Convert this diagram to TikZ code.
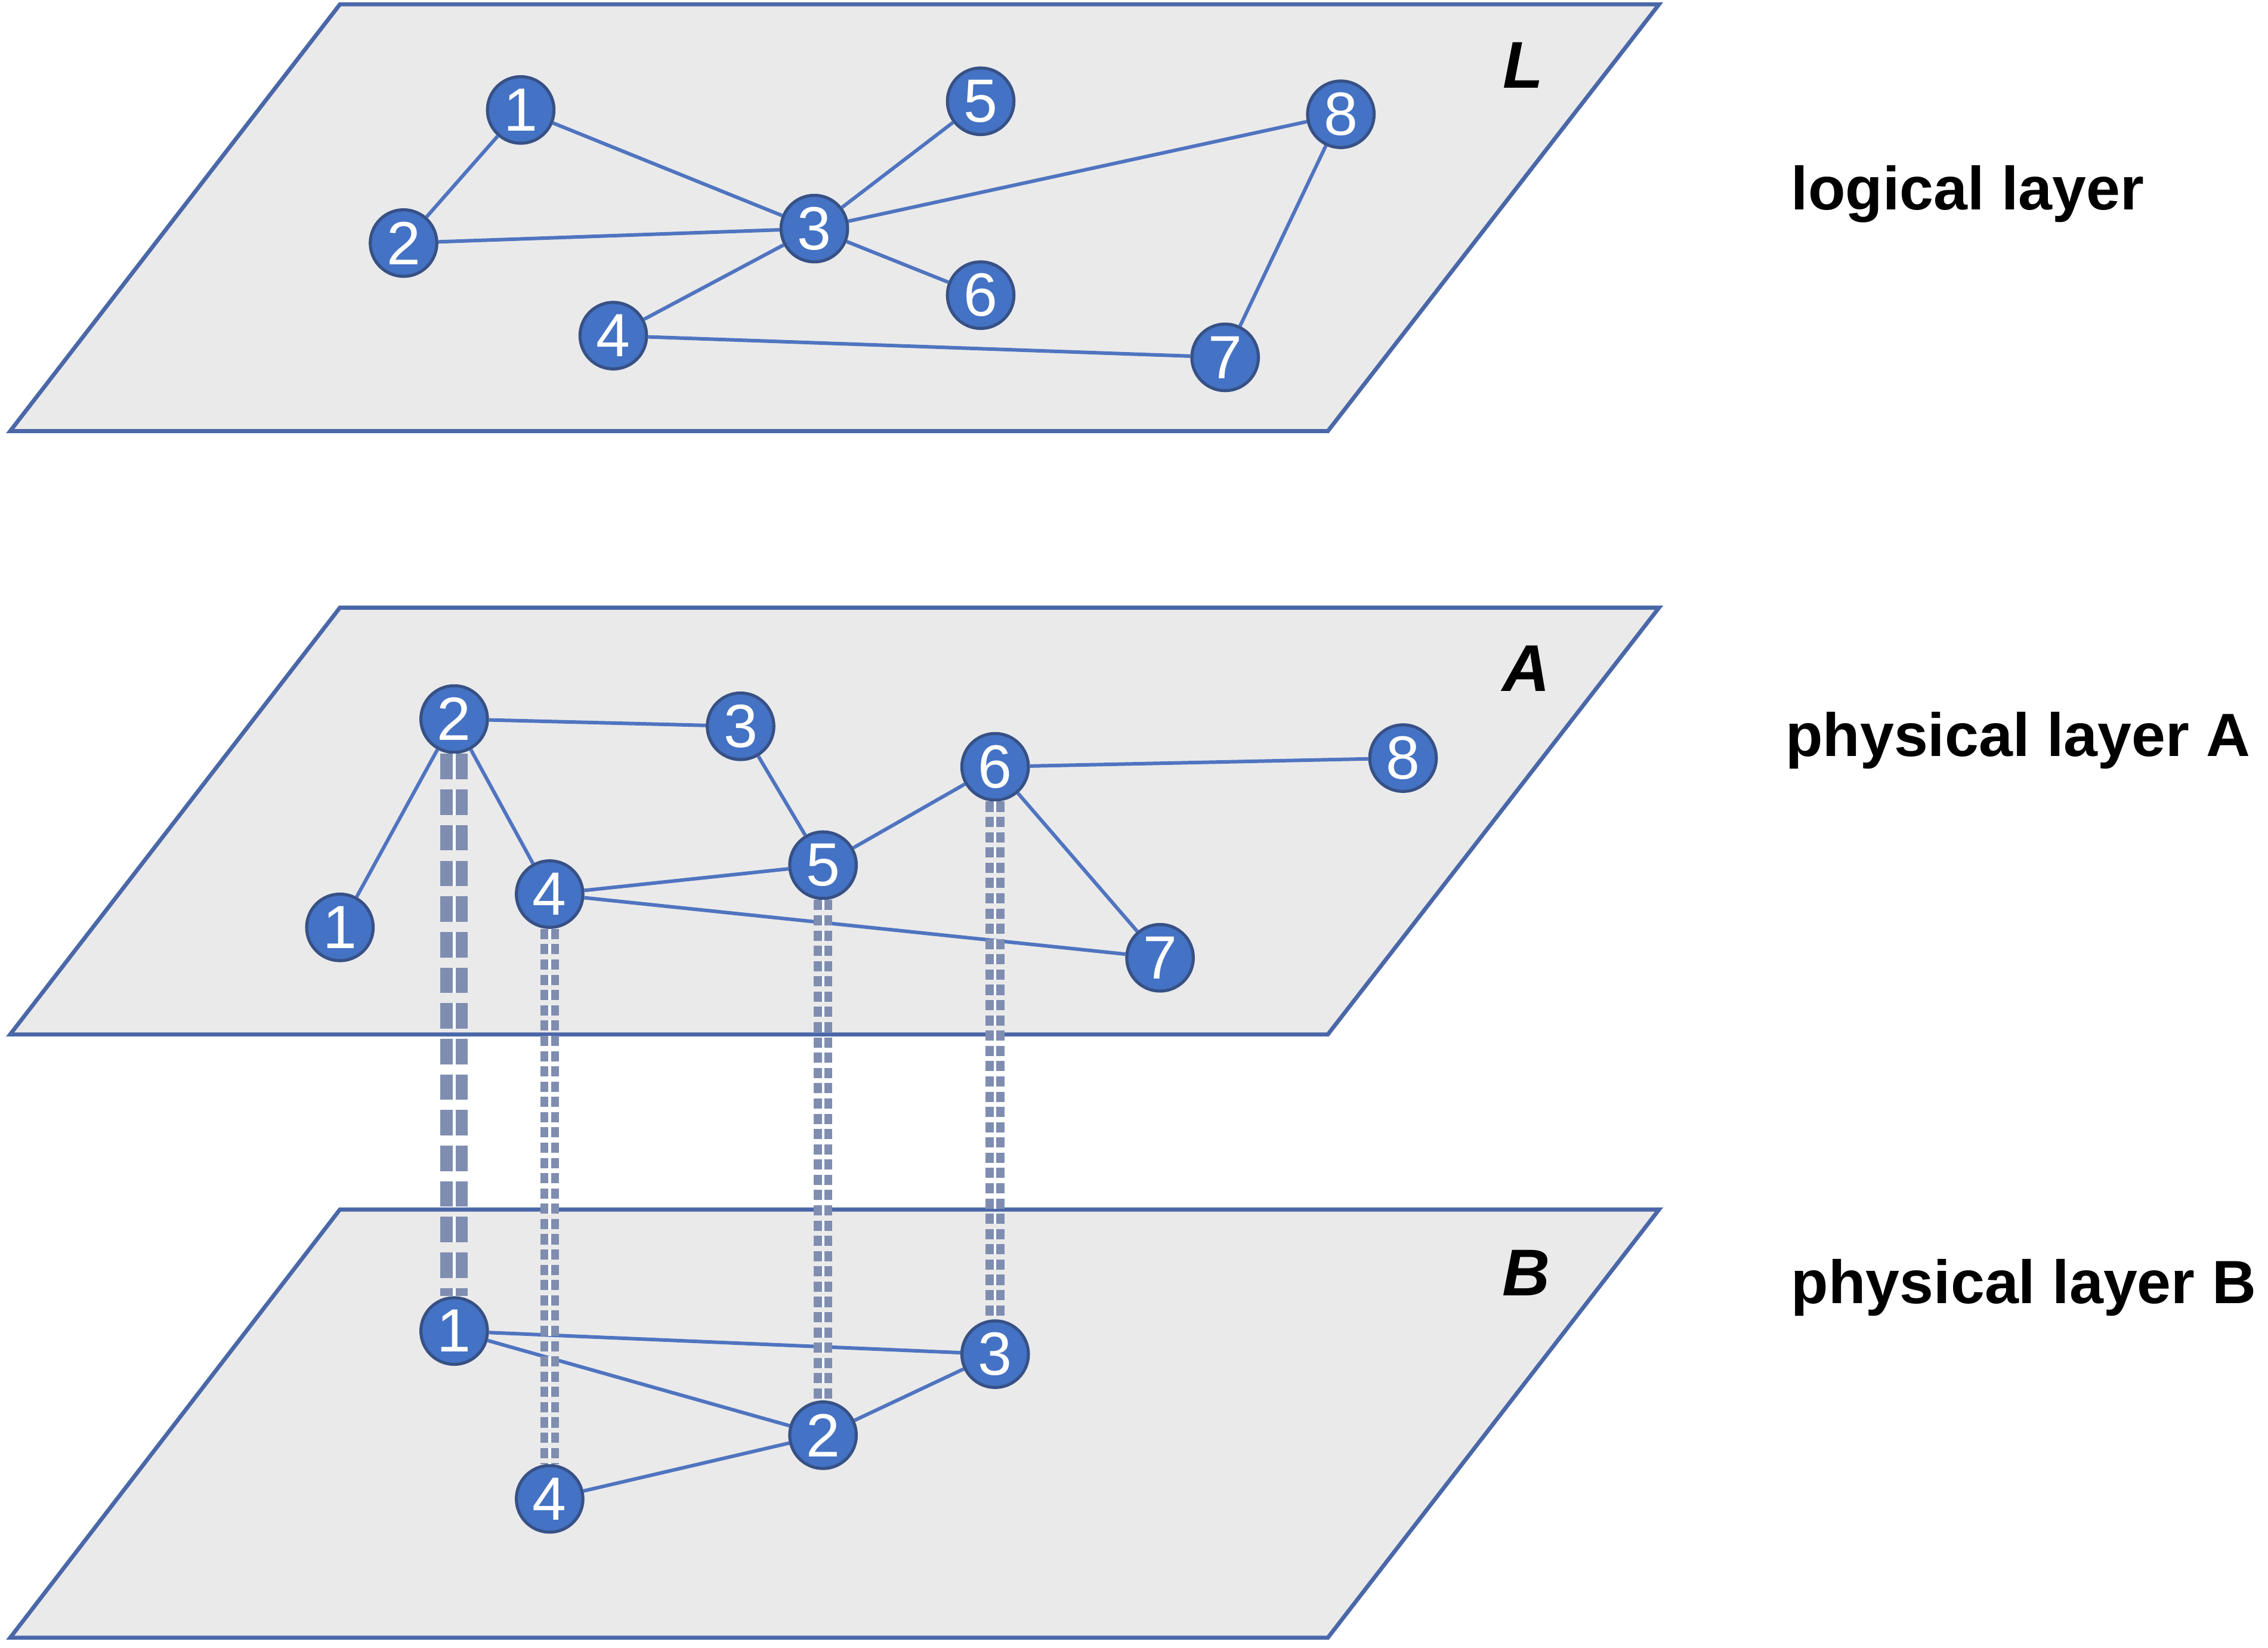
\documentclass[tikz,border=0pt]{standalone}
\usepackage{fontspec}
\setmainfont{Liberation Sans}
\usepackage{tikz}
\usetikzlibrary{positioning}
\definecolor{nodeblue}{HTML}{4472C4}
\definecolor{edgeblue}{HTML}{4F74C0}
\definecolor{planeline}{HTML}{4A67A8}
\definecolor{planefill}{HTML}{EAEAEA}
\definecolor{linkgray}{HTML}{7F8DB0}

\begin{document}
\begin{tikzpicture}[
    x=0.01cm, y=-0.01cm,
    plane/.style={draw=planeline, fill=planefill, line width=0.8pt},
    vertex/.style={circle, draw=edgeblue!70!black, fill=nodeblue, text=white, minimum size=0.46cm, inner sep=0pt, font=\fontsize{12}{12}\selectfont, line width=0.6pt},
    edge/.style={draw=edgeblue, line width=0.7pt},
    interlink/.style={draw=linkgray, line width=1.6pt, double=white, double distance=0.5pt, dash pattern=on 2pt off 1pt},
    mainlink/.style={draw=linkgray, line width=2.4pt, double=white, double distance=0.6pt, dash pattern=on 5pt off 2pt},
    layertag/.style={font=\bfseries\itshape\fontsize{13}{13}\selectfont},
    layername/.style={font=\bfseries\fontsize{12}{14}\selectfont, anchor=west}
]
    \useasboundingbox (0,0) rectangle (1568,1139);

    % planes
    \draw[plane] (235,3) -- (1147,3) -- (918,298) -- (7,298) -- cycle;
    \draw[plane] (235,420) -- (1147,420) -- (918,715) -- (7,715) -- cycle;
    \draw[plane] (235,836) -- (1147,836) -- (918,1132) -- (7,1132) -- cycle;

    \node[layertag] (tagL) at (1053,45) {L};
    \node[layertag] (tagA) at (1055,462) {A};
    \node[layertag] (tagB) at (1055,880) {B};

    \node[layername] (nameL) at (1226,134) {logical layer};
    \node[layername] (nameA) at (1222,512) {physical layer A};
    \node[layername] (nameB) at (1226,890) {physical layer B};

    % logical layer
    \node[vertex] (L1) at (360,76) {1};
    \node[vertex] (L2) at (279,168) {2};
    \node[vertex] (L3) at (563,158) {3};
    \node[vertex] (L4) at (424,232) {4};
    \node[vertex] (L5) at (678,70) {5};
    \node[vertex] (L6) at (678,204) {6};
    \node[vertex] (L7) at (847,247) {7};
    \node[vertex] (L8) at (927,79) {8};
    \foreach \a/\b in {1/2,1/3,2/3,3/5,3/8,3/6,3/4,4/7,8/7}
        \draw[edge] (L\a) -- (L\b);

    % physical layer A
    \node[vertex] (A1) at (235,641) {1};
    \node[vertex] (A2) at (314,497) {2};
    \node[vertex] (A3) at (512,502) {3};
    \node[vertex] (A4) at (380,618) {4};
    \node[vertex] (A5) at (569,598) {5};
    \node[vertex] (A6) at (688,530) {6};
    \node[vertex] (A7) at (802,662) {7};
    \node[vertex] (A8) at (970,524) {8};
    \foreach \a/\b in {2/3,2/1,2/4,3/5,5/6,6/8,6/7,4/5,4/7}
        \draw[edge] (A\a) -- (A\b);

    % physical layer B
    \node[vertex] (B1) at (314,920) {1};
    \node[vertex] (B2) at (569,992) {2};
    \node[vertex] (B3) at (688,936) {3};
    \node[vertex] (B4) at (380,1036) {4};
    \foreach \a/\b in {1/3,1/2,2/3,4/2}
        \draw[edge] (B\a) -- (B\b);

    % inter-layer links
    \draw[mainlink] (A2) -- (B1);
    \draw[interlink] (A4) -- (B4);
    \draw[interlink] (A5) -- (B2);
    \draw[interlink] (A6) -- (B3);
\end{tikzpicture}
\end{document}
